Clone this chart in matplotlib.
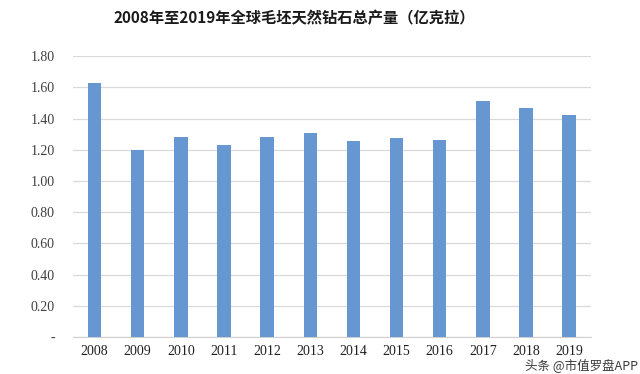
import matplotlib.pyplot as plt

# dane wykresu
years = ['2008', '2009', '2010', '2011', '2012', '2013', '2014', '2015',
         '2016', '2017', '2018', '2019']
output = [1.63, 1.20, 1.28, 1.23, 1.28, 1.31, 1.255, 1.275, 1.26, 1.51, 1.47, 1.42]
ytick_vals = [0, 0.2, 0.4, 0.6, 0.8, 1.0, 1.2, 1.4, 1.6, 1.8]
ytick_labels = ['-', '0.20', '0.40', '0.60', '0.80', '1.00', '1.20', '1.40', '1.60', '1.80']
title = '2008年至2019年全球毛坯天然钻石总产量（亿克拉）'
watermark = '头条 @市值罗盘APP'

fig = plt.figure(figsize=(6.4, 3.74), dpi=100)
ax = fig.add_axes([0.114, 0.099, 0.809, 0.751])

x = range(len(years))
ax.bar(x, output, width=0.31, color='#6797d0', zorder=3)

ax.set_xlim(-0.5, len(years) - 0.5)
ax.set_ylim(0, 1.8)
ax.set_yticks(ytick_vals)
ax.set_yticklabels(ytick_labels, family='Liberation Serif', fontsize=10, color='#404040')
ax.set_xticks(list(x))
ax.set_xticklabels(years, family='Liberation Serif', fontsize=10, color='#202020')
ax.tick_params(axis='both', length=0)
ax.tick_params(axis='y', pad=13)
ax.tick_params(axis='x', pad=6)
ax.grid(axis='y', color='#d9d9d9', linewidth=0.9, zorder=0)
for s in ['top', 'right', 'left']:
    ax.spines[s].set_visible(False)
ax.spines['bottom'].set_color('#d0d0d0')

# tytul wykresu
fig.text(0.46, 0.952, title, ha='center', va='center', fontsize=11,
         fontweight='bold', family=['Noto Sans CJK SC', 'DejaVu Sans'], color='#1a1a1a')
# znak wodny przesuniety pod etykiety osi
fig.text(0.997, 0.022, watermark, ha='right', va='center', fontsize=9,
         family=['Noto Sans CJK SC', 'DejaVu Sans'], color='#3a3a3a')

fig.savefig('out.png', dpi=100)
